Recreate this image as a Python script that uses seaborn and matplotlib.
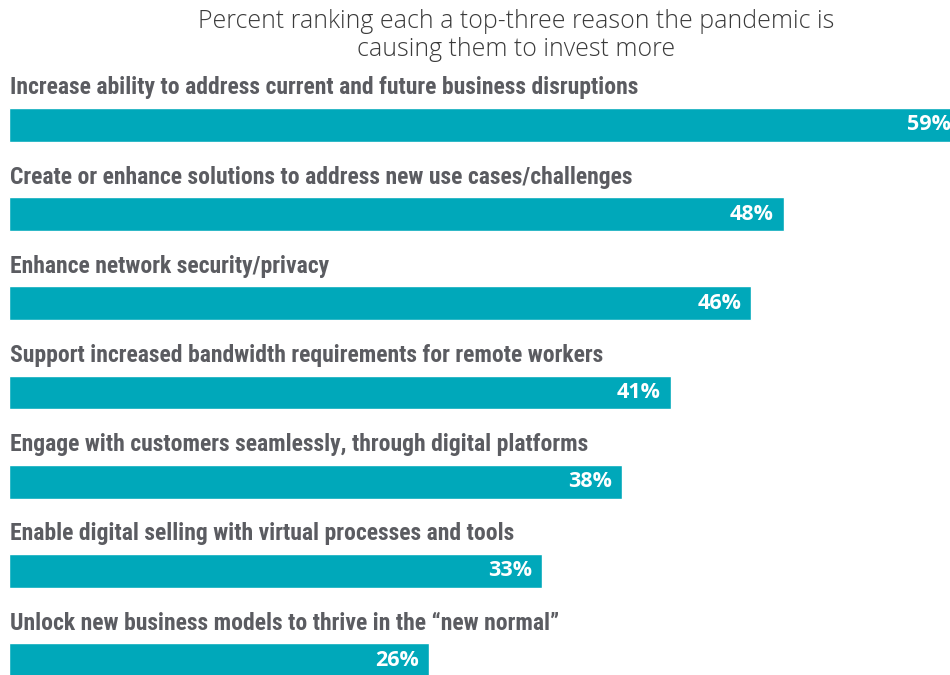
import matplotlib
matplotlib.use("Agg")
import matplotlib.pyplot as plt
import matplotlib.transforms as mt
from matplotlib import font_manager as fm
import seaborn as sns
import pandas as pd

categories = [
    "Increase ability to address current and future business disruptions",
    "Create or enhance solutions to address new use cases/challenges",
    "Enhance network security/privacy",
    "Support increased bandwidth requirements for remote workers",
    "Engage with customers seamlessly, through digital platforms",
    "Enable digital selling with virtual processes and tools",
    "Unlock new business models to thrive in the \u201cnew normal\u201d",
]
values = [59, 48, 46, 41, 38, 33, 26]
value_labels = [f"{v}%" for v in values]
title_lines = ["Percent ranking each a top-three reason the pandemic is",
               "causing them to invest more"]

BAR = "#00A8BA"
LABEL = "#5b5c61"
TITLE = "#3a3a3a"

sns.set_theme(style="white")
plt.rcParams['font.family'] = ['Open Sans', 'DejaVu Sans']

files = sorted(fm.findSystemFonts())


def pick(preds):
    for pred in preds:
        for f in files:
            n = f.lower().replace(" ", "").replace("_", "").replace("-", "")
            if pred(n):
                return f
    return None


def plain(n):
    return "italic" not in n and "oblique" not in n


cond = pick([
    lambda n: "opensans" in n and "condensed" in n and "bold" in n and "semi" not in n and "extra" not in n and plain(n),
    lambda n: "roboto" in n and "condensed" in n and "bold" in n and "semi" not in n and "extra" not in n and plain(n),
    lambda n: "narrow" in n and "bold" in n and plain(n),
    lambda n: "condensed" in n and "bold" in n and "semi" not in n and "extra" not in n and plain(n),
])

W, H = 950, 675
fig = plt.figure(figsize=(W / 100, H / 100), dpi=100)
ax = fig.add_axes([9 / W, 0, 941 / W, 1])

df = pd.DataFrame({"category": categories, "value": values})
sns.barplot(data=df, x="value", y="category", color=BAR, saturation=1,
            width=0.38, ax=ax, orient="h")

step = 89.2
top = -125 / step
bottom = 6 + 15 / step
ax.set_ylim(bottom, top)
ax.set_xlim(0, 58.3)
ax.axis("off")

if cond:
    lab_fp = fm.FontProperties(fname=cond, size=17)
else:
    lab_fp = fm.FontProperties(family="DejaVu Sans", weight="bold", size=15)

val_fp = fm.FontProperties(family=["Open Sans", "DejaVu Sans"], weight="bold", size=15.5)

for i, (cat, v, lab) in enumerate(zip(categories, values, value_labels)):
    ax.text(0.06, i - 37 / step, cat, ha="left", va="center",
            fontproperties=lab_fp, color=LABEL, clip_on=False)
    off = mt.offset_copy(ax.transData, fig=fig, x=-10, y=0, units="dots")
    ax.text(v, i, lab, ha="right", va="center", fontproperties=val_fp,
            color="white", transform=off, clip_on=False)

fig.text(516.5 / W, 1 - 21 / H, title_lines[0], ha="center", va="center",
         fontsize=17.9, fontweight="light", color=TITLE)
fig.text(516.5 / W, 1 - 49 / H, title_lines[1], ha="center", va="center",
         fontsize=17.9, fontweight="light", color=TITLE)

fig.savefig("out.png", dpi=100)
